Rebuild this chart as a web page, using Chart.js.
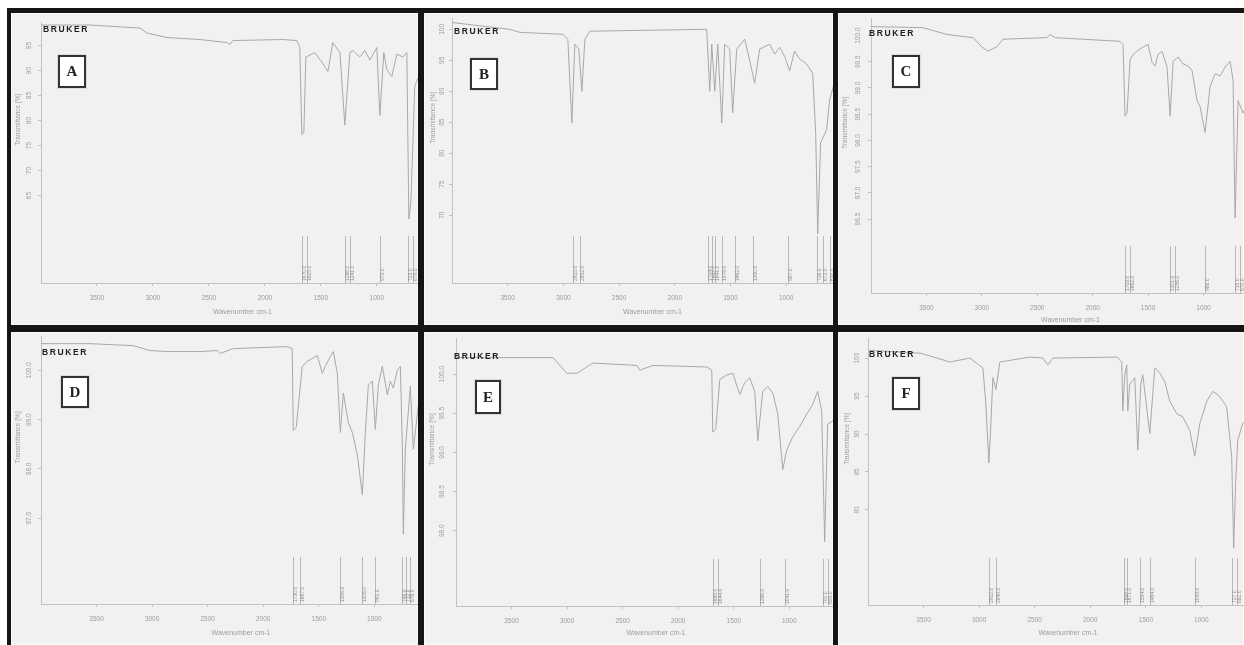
<!DOCTYPE html>
<html>
<head>
<meta charset="utf-8">
<script src="https://cdn.jsdelivr.net/npm/chart.js@4.4.1/dist/chart.umd.min.js"></script>
<style>
  body { margin: 0; background: #fff; }
  #sheet { position: relative; width: 1244px; height: 645px; overflow: hidden; }
  .frame { position: absolute; left: 7px; top: 8px; width: 1240px; height: 640px; background: #151515; }
  .panel { position: absolute; background: #f1f1f1; overflow: hidden; box-shadow: inset 0 0 0 1px #fafafa; }
  .panel canvas { position: absolute; left: 0; top: 0; }
  .logo { position: absolute; transform: translate(-50%, -50%); font: bold 8.5px "Liberation Sans", sans-serif; letter-spacing: 1.6px; color: #1e1e1e; }
  .tag { position: absolute; box-sizing: border-box; background: #fff; border: 2px solid #333; box-shadow: 0 0 0 1px #ddd;
         display: flex; align-items: center; justify-content: center; font: bold 15px "Liberation Serif", serif; color: #222; }
</style>
</head>
<body>
<div id="sheet"><div class="frame"></div></div>
<script>
// wavenumber (cm-1) and transmittance (%)
const waveA = [4000,3562,3116,3054,2875,2580,2339,2312,2286,1839,1714,1688,1670,1652,1634,1554,1491,1437,1393,1330,1286,1241,1214,1152,1107,1062,1000,973,938,911,866,821,768,732,714,696,661,571,400];
const transA = [99.1,99.1,98.5,97.5,96.6,96.2,95.6,95.2,96.0,96.2,96.0,94.6,77.2,77.6,92.7,93.6,91.7,89.8,95.6,93.6,79.1,93.6,94.0,92.7,94.0,92.1,94.6,81.0,93.6,90.2,88.8,93.3,92.7,93.6,60.3,63.6,86.9,91.7,91.7];
const peaksA = [1670,1625,1286,1241,973,723,679];
const yTicksA = [95,90,85,80,75,70,65];

const waveB = [4000,3480,3390,3004,2960,2924,2897,2861,2834,2807,2762,1713,1686,1668,1641,1614,1578,1552,1507,1480,1444,1372,1327,1283,1238,1148,1103,1058,1013,969,924,879,816,762,735,717,691,637,610,520,400];
const transB = [101.1,100.0,99.5,99.2,98.4,84.9,97.6,96.8,90.0,98.4,99.7,100.0,90.0,97.6,90.0,97.6,84.9,97.6,96.8,86.5,96.8,98.4,94.9,91.3,96.8,97.6,96.0,97.1,95.6,93.3,96.5,95.2,94.4,92.9,83.3,67.0,81.7,83.8,88.6,94.4,94.4];
const peaksB = [2915,2852,1704,1668,1641,1578,1462,1300,987,726,673,610];
const yTicksB = [100,95,90,85,80,75,70];

const waveC = [4000,3531,3314,3079,2998,2944,2863,2809,2412,2384,2339,1753,1726,1708,1690,1662,1617,1545,1500,1464,1437,1410,1374,1329,1301,1274,1229,1184,1139,1103,1058,1031,986,940,895,850,805,760,733,715,688,643,489,400];
const transC = [100.17,100.15,100.02,99.96,99.78,99.70,99.79,99.93,99.96,100.02,99.96,99.89,99.83,98.46,98.52,99.55,99.68,99.78,99.83,99.49,99.42,99.64,99.70,99.40,98.46,99.51,99.59,99.46,99.42,99.33,98.76,98.65,98.15,99.03,99.27,99.23,99.40,99.51,99.14,96.52,98.76,98.52,99.27,99.27];
const peaksC = [1708,1662,1301,1256,986,715,670];
const yTicksC = [100.0,99.5,99.0,98.5,98.0,97.5,97.0,96.5];

const waveD = [4000,3559,3171,3018,2865,2568,2414,2387,2270,1784,1739,1730,1703,1649,1604,1514,1468,1441,1396,1369,1333,1306,1279,1234,1198,1153,1108,1081,1054,1018,991,964,928,883,856,829,793,766,748,739,721,676,649,604,496,400];
const transD = [100.54,100.54,100.50,100.40,100.38,100.38,100.40,100.34,100.44,100.48,100.44,98.78,98.84,100.08,100.18,100.30,99.94,100.08,100.28,100.38,99.94,98.74,99.54,98.94,98.74,98.28,97.48,98.74,99.70,99.78,98.80,99.70,100.08,99.50,99.78,99.64,100.00,100.08,98.50,96.68,98.40,99.68,98.40,99.28,99.74,99.74];
const peaksD = [1730,1667,1306,1108,991,748,712,676];
const yTicksD = [100.0,99.0,98.0,97.0];

const waveE = [4000,3514,3128,3002,2912,2768,2372,2345,2228,1743,1698,1689,1662,1626,1563,1509,1446,1401,1356,1311,1284,1239,1194,1149,1104,1059,1023,969,906,843,790,745,709,682,655,610,502,400];
const transE = [100.21,100.21,100.21,100.01,100.01,100.14,100.11,100.05,100.11,100.09,100.05,99.26,99.30,99.93,99.99,100.01,99.74,99.89,99.95,99.78,99.15,99.78,99.84,99.76,99.49,98.78,99.03,99.20,99.33,99.49,99.61,99.78,99.53,97.86,99.36,99.40,99.61,99.61];
const peaksE = [1689,1644,1266,1041,700,655];
const yTicksE = [100.0,99.5,99.0,98.5,98.0];

const waveF = [4000,3532,3379,3263,3083,2966,2939,2912,2894,2876,2849,2813,2543,2426,2381,2336,1761,1716,1707,1689,1671,1662,1644,1599,1572,1545,1527,1464,1419,1374,1329,1284,1221,1167,1104,1059,1014,951,897,835,772,727,709,691,673,628,475,400];
const transF = [101.03,100.65,100.00,99.48,100.00,98.71,93.94,86.19,91.35,97.42,95.87,99.48,100.13,100.00,99.10,100.00,100.13,99.48,93.03,97.81,99.10,93.03,96.52,97.42,87.87,96.52,97.81,90.06,98.71,98.06,96.90,94.32,92.65,92.26,90.45,87.10,91.35,94.32,95.61,94.97,93.55,87.10,74.97,83.61,89.16,91.35,93.94,93.94];
const peaksF = [2912,2849,1698,1671,1554,1464,1059,727,682];
const yTicksF = [100,95,90,85,80];

const xTicks = [3500,3000,2500,2000,1500,1000];

// panel layout (page pixels)
const panels = [
  {id:'A', wave:waveA, trans:transA, peaks:peaksA, yTicks:yTicksA, dec:0, yMin:47.52, yMax:99.65,
   left:11, top:13, w:407, h:312, axisX:41, axisY:283, ppu:0.112, labGap:12, yTitleX:7, xTitlePad:9,
   tag:[47,42,28,33], logo:[55,16]},
  {id:'B', wave:waveB, trans:transB, peaks:peaksB, yTicks:yTicksB, dec:0, yMin:59.05, yMax:101.75,
   left:424, top:13, w:409, h:312, axisX:452, axisY:283, ppu:0.1115, labGap:10, yTitleX:9, xTitlePad:9,
   tag:[46,45,28,32], logo:[53,18]},
  {id:'C', wave:waveC, trans:transC, peaks:peaksC, yTicks:yTicksC, dec:1, yMin:95.09, yMax:100.32,
   left:838, top:13, w:406, h:312, axisX:871, axisY:293, ppu:0.1108, labGap:13, yTitleX:7, xTitlePad:1,
   tag:[54,42,28,33], logo:[54,20]},
  {id:'D', wave:waveD, trans:transD, peaks:peaksD, yTicks:yTicksD, dec:1, yMin:95.26, yMax:100.68,
   left:11, top:332, w:407, h:313, axisX:41, axisY:604, ppu:0.111, labGap:12, yTitleX:7, xTitlePad:8,
   tag:[50,44,28,32], logo:[54,20]},
  {id:'E', wave:waveE, trans:transE, peaks:peaksE, yTicks:yTicksE, dec:1, yMin:97.04, yMax:100.45,
   left:424, top:332, w:409, h:313, axisX:456, axisY:606, ppu:0.1112, labGap:14, yTitleX:8, xTitlePad:8,
   tag:[51,48,26,34], logo:[53,24]},
  {id:'F', wave:waveF, trans:transF, peaks:peaksF, yTicks:yTicksF, dec:0, yMin:67.48, yMax:102.58,
   left:838, top:332, w:406, h:313, axisX:868, axisY:605, ppu:0.1112, labGap:11, yTitleX:9, xTitlePad:8,
   tag:[54,45,28,33], logo:[54,22]}
];

const GREY = '#9c9c9c';
const AXIS = '#c2c2c2';
const FONT = '"Liberation Sans", Arial, sans-serif';
Chart.defaults.font.family = FONT;

// peak picking marks + y-axis title (OPUS style)
const opusDecor = {
  id: 'opusDecor',
  afterDraw(chart, args, opts) {
    const { ctx, chartArea: ca, scales: { x } } = chart;
    ctx.save();
    ctx.strokeStyle = '#b8b8b8';
    ctx.lineWidth = 1;
    ctx.fillStyle = '#8c8c8c';
    ctx.font = '5px ' + FONT;
    opts.peaks.forEach(p => {
      const px = Math.round(x.getPixelForValue(p)) + 0.5;
      ctx.beginPath();
      ctx.moveTo(px, ca.bottom - 47);
      ctx.lineTo(px, ca.bottom);
      ctx.stroke();
      ctx.save();
      ctx.translate(px + 2.5, ca.bottom - 2);
      ctx.rotate(-Math.PI / 2);
      ctx.textAlign = 'left';
      ctx.textBaseline = 'middle';
      ctx.fillText(p.toFixed(1), 0, 0);
      ctx.restore();
    });
    ctx.fillStyle = GREY;
    ctx.font = '6.5px ' + FONT;
    ctx.translate(opts.titleX, (ca.top + ca.bottom) / 2 - 33);
    ctx.rotate(-Math.PI / 2);
    ctx.textAlign = 'center';
    ctx.textBaseline = 'middle';
    ctx.fillText('Transmittance [%]', 0, 0);
    ctx.restore();
  }
};

const measure = document.createElement('canvas').getContext('2d');
measure.font = '6.5px ' + FONT;

const sheet = document.getElementById('sheet');

panels.forEach(p => {
  const box = document.createElement('div');
  box.className = 'panel';
  Object.assign(box.style, { left: p.left + 'px', top: p.top + 'px', width: p.w + 'px', height: p.h + 'px' });

  const canvas = document.createElement('canvas');
  canvas.width = Math.round(p.axisX - p.left + 3600 * p.ppu);
  canvas.height = p.h;
  box.appendChild(canvas);

  const logo = document.createElement('div');
  logo.className = 'logo';
  logo.textContent = 'BRUKER';
  logo.style.left = p.logo[0] + 'px';
  logo.style.top = p.logo[1] + 'px';
  box.appendChild(logo);

  const tag = document.createElement('div');
  tag.className = 'tag';
  tag.textContent = p.id;
  Object.assign(tag.style, { left: p.tag[0] + 'px', top: p.tag[1] + 'px', width: p.tag[2] + 'px', height: p.tag[3] + 'px' });
  box.appendChild(tag);

  sheet.appendChild(box);

  const labels = p.yTicks.map(v => v.toFixed(p.dec));
  const widest = Math.max(...labels.map(s => measure.measureText(s).width));

  new Chart(canvas.getContext('2d'), {
    type: 'line',
    data: {
      datasets: [{
        data: p.wave.map((w, i) => ({ x: w, y: p.trans[i] })),
        borderColor: '#a8a8a8',
        borderWidth: 1,
        pointRadius: 0,
        tension: 0,
        fill: false
      }]
    },
    options: {
      responsive: false,
      animation: false,
      layout: { padding: { top: 1, left: 0, right: 0, bottom: 0 } },
      plugins: {
        legend: { display: false },
        tooltip: { enabled: false },
        opusDecor: { peaks: p.peaks, titleX: p.yTitleX }
      },
      scales: {
        x: {
          type: 'linear',
          reverse: true,
          min: 400,
          max: 4000,
          afterBuildTicks: s => { s.ticks = xTicks.map(v => ({ value: v })); },
          afterFit: s => { s.height = p.top + p.h - p.axisY; },
          grid: { drawOnChartArea: false, tickLength: 3, color: AXIS },
          border: { color: AXIS },
          ticks: { color: GREY, font: { size: 6.5 }, padding: 8, maxRotation: 0, autoSkip: false,
                   callback: v => String(v) },
          title: { display: true, text: 'Wavenumber cm-1', color: GREY, font: { size: 7 },
                   padding: { top: 0, bottom: p.xTitlePad } }
        },
        y: {
          type: 'linear',
          min: p.yMin,
          max: p.yMax,
          afterBuildTicks: s => { s.ticks = p.yTicks.map(v => ({ value: v })); },
          afterFit: s => { s.width = p.axisX - p.left; },
          grid: { drawOnChartArea: false, tickLength: 3, color: AXIS },
          border: { color: AXIS },
          ticks: {
            color: GREY, font: { size: 6.5 }, minRotation: 90, maxRotation: 90, crossAlign: 'center',
            padding: p.labGap - 3 - widest / 2,
            callback: v => v.toFixed(p.dec)
          }
        }
      }
    },
    plugins: [opusDecor]
  });
});
</script>
</body>
</html>
